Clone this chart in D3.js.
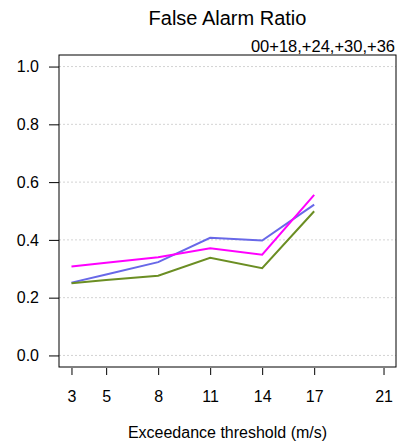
<!DOCTYPE html>
<html>
<head>
<meta charset="utf-8">
<script src="https://cdn.jsdelivr.net/npm/d3@7"></script>
<style>
  body { margin: 0; background: #fff; }
  text { font-family: "Liberation Sans", Arial, sans-serif; }
</style>
</head>
<body>
<div id="chart"></div>
<script>
(function() {
	// data
	var thresholds = [3, 5, 8, 11, 14, 17];
	var xTicks = [3, 5, 8, 11, 14, 17, 21];
	var yTicks = [0, 0.2, 0.4, 0.6, 0.8, 1.0];
	var blueVals = [0.252, 0.280, 0.323, 0.407, 0.398, 0.522];
	var greenVals = [0.250, 0.261, 0.276, 0.338, 0.302, 0.499];
	var magentaVals = [0.308, 0.321, 0.340, 0.371, 0.349, 0.556];

	var width = 406, height = 445;
	var margin = {left: 59, right: 10, top: 55, bottom: 78};

	var svg = d3.select("#chart").append("svg")
		.attr("width", width)
		.attr("height", height);

	// R style 4% padding on both axes
	var x = d3.scaleLinear().domain([2.28, 21.72]).range([margin.left, width - margin.right]);
	var y = d3.scaleLinear().domain([-0.04, 1.04]).range([height - margin.bottom, margin.top]);

	// grid
	svg.append("g").selectAll("line")
		.data(yTicks)
		.enter().append("line")
		.attr("x1", margin.left).attr("x2", width - margin.right)
		.attr("y1", function(d) { return y(d); })
		.attr("y2", function(d) { return y(d); })
		.attr("stroke", "#c8c8c8")
		.attr("stroke-width", 0.8)
		.attr("stroke-dasharray", "2,2");

	var line = d3.line()
		.x(function(d, i) { return x(thresholds[i]); })
		.y(function(d) { return y(d); });

	var series = [
		{vals: blueVals, color: "#6868E8"},
		{vals: greenVals, color: "#6B8E23"},
		{vals: magentaVals, color: "#FF00FF"}
	];
	svg.append("g").selectAll("path")
		.data(series)
		.enter().append("path")
		.attr("d", function(d) { return line(d.vals); })
		.attr("fill", "none")
		.attr("stroke", function(d) { return d.color; })
		.attr("stroke-width", 2);

	// box
	svg.append("rect")
		.attr("x", margin.left).attr("y", margin.top)
		.attr("width", width - margin.right - margin.left)
		.attr("height", height - margin.bottom - margin.top)
		.attr("fill", "none")
		.attr("stroke", "#000")
		.attr("stroke-width", 1);

	// axes
	var xAxis = svg.append("g")
		.attr("transform", "translate(0," + (height - margin.bottom + 1) + ")")
		.call(d3.axisBottom(x).tickValues(xTicks).tickSize(7).tickPadding(16).tickFormat(d3.format("d")));
	xAxis.select(".domain").remove();
	xAxis.selectAll("text").attr("font-size", 16).attr("fill", "#000").style("font-family", "Liberation Sans, Arial, sans-serif");

	var yAxis = svg.append("g")
		.attr("transform", "translate(" + margin.left + ",0)")
		.call(d3.axisLeft(y).tickValues(yTicks).tickSize(10).tickPadding(10).tickFormat(d3.format(".1f")));
	yAxis.select(".domain").remove();
	yAxis.selectAll("text").attr("font-size", 16).attr("fill", "#000").style("font-family", "Liberation Sans, Arial, sans-serif");

	// titles
	svg.append("text")
		.attr("x", (margin.left + width - margin.right) / 2)
		.attr("y", 25)
		.attr("text-anchor", "middle")
		.attr("font-size", 20)
		.text("False Alarm Ratio");

	svg.append("text")
		.attr("x", width - margin.right - 1)
		.attr("y", 51.5)
		.attr("text-anchor", "end")
		.attr("font-size", 16.5)
		.text("00+18,+24,+30,+36");

	svg.append("text")
		.attr("x", (margin.left + width - margin.right) / 2)
		.attr("y", 438)
		.attr("text-anchor", "middle")
		.attr("font-size", 16)
		.text("Exceedance threshold (m/s)");
})();
</script>
</body>
</html>
